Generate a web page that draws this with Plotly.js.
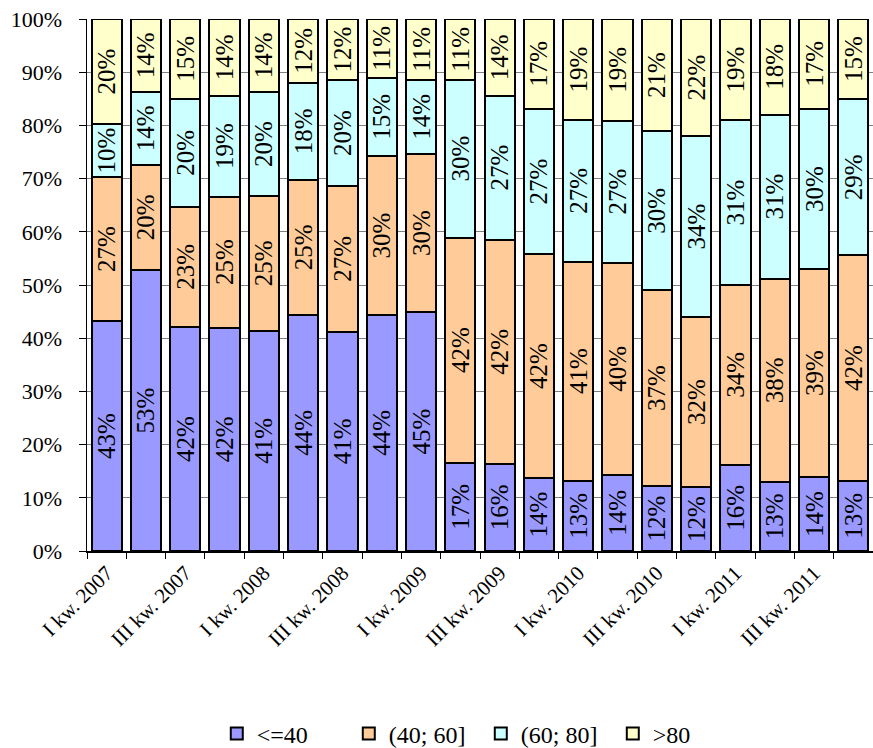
<!DOCTYPE html>
<html>
<head>
<meta charset="utf-8">
<script src="https://cdn.plot.ly/plotly-3.0.1.min.js"></script>
<style>
  html, body { margin: 0; padding: 0; background: #ffffff; }
  #chart { width: 873px; height: 748px; }
</style>
</head>
<body>
<div id="chart"></div>
<script>
const categories = [
  "I kw. 2007", "II kw. 2007", "III kw. 2007", "IV kw. 2007",
  "I kw. 2008", "II kw. 2008", "III kw. 2008", "IV kw. 2008",
  "I kw. 2009", "II kw. 2009", "III kw. 2009", "IV kw. 2009",
  "I kw. 2010", "II kw. 2010", "III kw. 2010", "IV kw. 2010",
  "I kw. 2011", "II kw. 2011", "III kw. 2011", "IV kw. 2011"
];
const tickLabels = [
  "I kw. 2007", "", "III kw. 2007", "",
  "I kw. 2008", "", "III kw. 2008", "",
  "I kw. 2009", "", "III kw. 2009", "",
  "I kw. 2010", "", "III kw. 2010", "",
  "I kw. 2011", "", "III kw. 2011", ""
];
const seriesNames = ["<=40", "(40; 60]", "(60; 80]", ">80"];
const le40   = [43.2, 52.8, 42.1, 42.0, 41.4, 44.4, 41.2, 44.4, 44.9, 16.6, 16.4, 13.7, 13.2, 14.3, 12.2, 12.0, 16.2, 13.0, 13.9, 13.2];
const s40_60 = [27.1, 19.8, 22.6, 24.6, 25.3, 25.4, 27.4, 29.8, 29.7, 42.3, 42.1, 42.1, 41.2, 39.9, 36.8, 32.0, 33.8, 38.2, 39.1, 42.4];
const s60_80 = [9.9, 13.7, 20.3, 19.0, 19.6, 18.2, 19.9, 14.8, 14.0, 29.7, 27.1, 27.3, 26.6, 26.7, 29.9, 34.0, 31.0, 30.8, 30.1, 29.3];
const gt80   = [19.8, 13.7, 15.0, 14.4, 13.7, 12.0, 11.5, 11.0, 11.4, 11.4, 14.4, 16.9, 19.0, 19.1, 21.1, 22.0, 19.0, 18.0, 16.9, 15.1];
const colors = ["#9999FF", "#FFCC99", "#CCFFFF", "#FFFFCC"];

const FONT = "Liberation Serif, Times New Roman, serif";
const values = [le40, s40_60, s60_80, gt80];
const barFont = { family: FONT, size: 25, color: "#000000" };

const traces = values.map((v, i) => ({
  type: "bar",
  name: seriesNames[i],
  x: categories,
  y: v,
  marker: { color: colors[i], line: { color: "#000000", width: 2 } },
  texttemplate: "%{y:.0f}%",
  textposition: "inside",
  insidetextanchor: "middle",
  textangle: -90,
  constraintext: "none",
  textfont: barFont,
  insidetextfont: barFont,
  hoverinfo: "skip"
}));

const layout = {
  width: 873,
  height: 748,
  margin: { l: 87, r: 0, t: 19, b: 197, autoexpand: false },
  paper_bgcolor: "#ffffff",
  plot_bgcolor: "#ffffff",
  barmode: "stack",
  bargap: 0.23,
  font: { family: FONT, size: 21, color: "#000000" },
  showlegend: true,
  legend: {
    orientation: "h",
    x: 0.501, xanchor: "center",
    y: -0.344, yanchor: "middle",
    font: { family: FONT, size: 24, color: "#000000" },
    traceorder: "normal",
    itemwidth: 30,
    entrywidth: 87,
    entrywidthmode: "pixels"
  },
  xaxis: {
    type: "category",
    tickmode: "array",
    tickvals: categories,
    ticktext: tickLabels,
    tickson: "boundaries",
    ticks: "outside",
    ticklen: 6,
    tickcolor: "#000000",
    tickangle: -45,
    showline: true,
    linecolor: "#000000",
    linewidth: 1.5,
    showgrid: false,
    tickfont: { family: FONT, size: 21, color: "#000000" }
  },
  yaxis: {
    range: [0, 100],
    dtick: 10,
    ticksuffix: "%",
    ticks: "outside",
    ticklen: 7,
    tickcolor: "#000000",
    showline: true,
    linecolor: "#000000",
    linewidth: 1.5,
    showgrid: true,
    gridcolor: "#808080",
    gridwidth: 1,
    zeroline: false,
    ticklabelstandoff: 12,
    tickfont: { family: FONT, size: 22, color: "#000000" }
  }
};

Plotly.newPlot("chart", traces, layout, { staticPlot: true, displayModeBar: false });
</script>
</body>
</html>
